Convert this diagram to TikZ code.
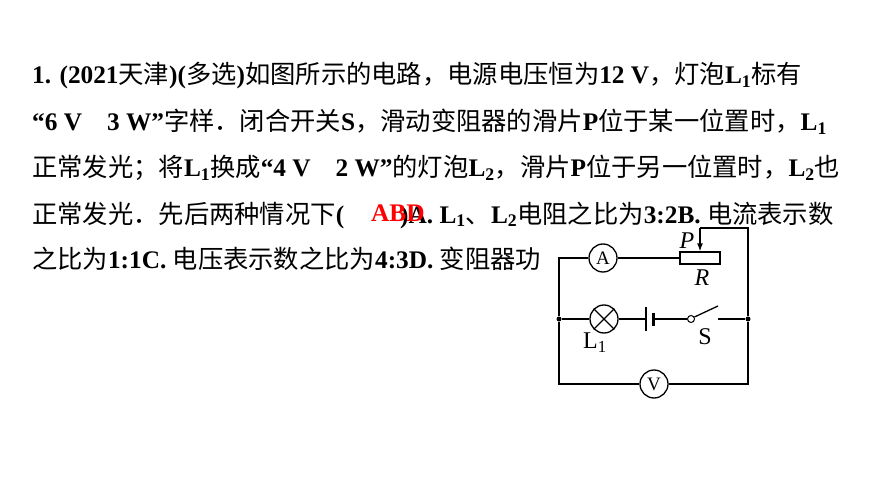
\documentclass[tikz,border=0pt]{standalone}
\usepackage{fontspec}
\setmainfont{Liberation Serif}
\newfontfamily\cjkfont{Noto Sans CJK SC}
\usetikzlibrary{arrows.meta}
\newcommand\zh[1]{{\mdseries\cjkfont #1}}
\newcommand\sub[1]{\textsubscript{#1}}

\tikzset{
  line/.style={anchor=base west, inner sep=0pt, font=\fontsize{25.3}{25.3}\selectfont\bfseries},
  wire/.style={line width=1.3pt},
  meter/.style={draw, circle, line width=1.3pt, minimum size=28pt, inner sep=0pt, font=\fontsize{19}{19}\selectfont},
  junction/.style={circle, fill, inner sep=0pt, minimum size=5pt},
  lbl/.style={inner sep=0pt, font=\fontsize{24}{24}\selectfont}
}

\begin{document}
\begin{tikzpicture}[x=1pt, y=-1pt]
  \useasboundingbox[fill=white] (0,0) rectangle (870,489);

  % question text
  \node[line] (row1) at (32, 84) {1. (2021\zh{天津})(\zh{多选})\zh{如图所示的电路，电源电压恒为}12 V\zh{，灯泡}L\sub{1}\zh{标有}};
  \node[line] (row2) at (32, 131) {“6 V\hspace{25pt}3 W”\zh{字样．闭合开关}S\zh{，滑动变阻器的滑片}P\zh{位于某一位置时，}L\sub{1}};
  \node[line] (row3) at (32, 177) {\zh{正常发光；将}L\sub{1}\zh{换成}“4 V\hspace{25pt}2 W”\zh{的灯泡}L\sub{2}\zh{，滑片}P\zh{位于另一位置时，}L\sub{2}\zh{也}};
  \node[line] (row4) at (32, 223) {\zh{正常发光．先后两种情况下}(\hspace{56pt})A. L\sub{1}\zh{、}L\sub{2}\zh{电阻之比为}3:2B. \zh{电流表示数}};
  \node[line, text=red] (answer) at (371, 222) {ABD};
  \node[line] (row5) at (32, 268) {\zh{之比为}1:1C. \zh{电压表示数之比为}4:3D. \zh{变阻器功}};

  % circuit
  \node[junction] (jl) at (559, 319) {};
  \node[junction] (jr) at (748, 319) {};
  \node[meter] (ammeter) at (603, 258) {A};
  \node[meter] (voltmeter) at (654, 384) {V};
  \node[draw, wire, minimum width=40pt, minimum height=12pt, inner sep=0pt] (rheo) at (700, 258) {};
  \node[draw, wire, circle, minimum size=28pt, inner sep=0pt] (lamp) at (604, 319) {};
  \draw[wire] (lamp.45) -- (lamp.225) (lamp.135) -- (lamp.315);
  \node[draw, circle, line width=1pt, minimum size=7pt, inner sep=0pt] (pivot) at (691, 319) {};
  \coordinate (batlong) at (646, 319);
  \coordinate (batshort) at (653, 319);
  \coordinate (lever) at (718, 306);
  \coordinate (swend) at (718, 319);
  \coordinate (ptop) at (700, 228);

  \draw[wire] (jl) |- (ammeter.west);
  \draw[wire] (ammeter.east) -- (rheo.west);
  \draw[wire] (jr) |- (ptop);
  \draw[wire, -{Latex[length=8pt, width=6pt]}] (ptop) -- (rheo.north);
  \draw[wire] (jl) -- (lamp.west);
  \draw[wire] (lamp.east) -- (batlong);
  \draw[wire] (batlong) ++(0,-12) -- ++(0,24);
  \draw[line width=3pt] (batshort) ++(0,-6.5) -- ++(0,13);
  \draw[wire] (batshort) -- (pivot.west);
  \draw[wire] (pivot.30) -- (lever);
  \draw[wire] (swend) -- (jr);
  \draw[wire] (jl) |- (voltmeter.west);
  \draw[wire] (voltmeter.east) -| (jr);

  \node[lbl] (plabel) at (687, 241) {\itshape P};
  \node[lbl] (rlabel) at (702, 278) {\itshape R};
  \node[lbl] (slabel) at (705, 337) {S};
  \node[lbl] (llabel) at (595, 343) {L\sub{1}};
\end{tikzpicture}
\end{document}
